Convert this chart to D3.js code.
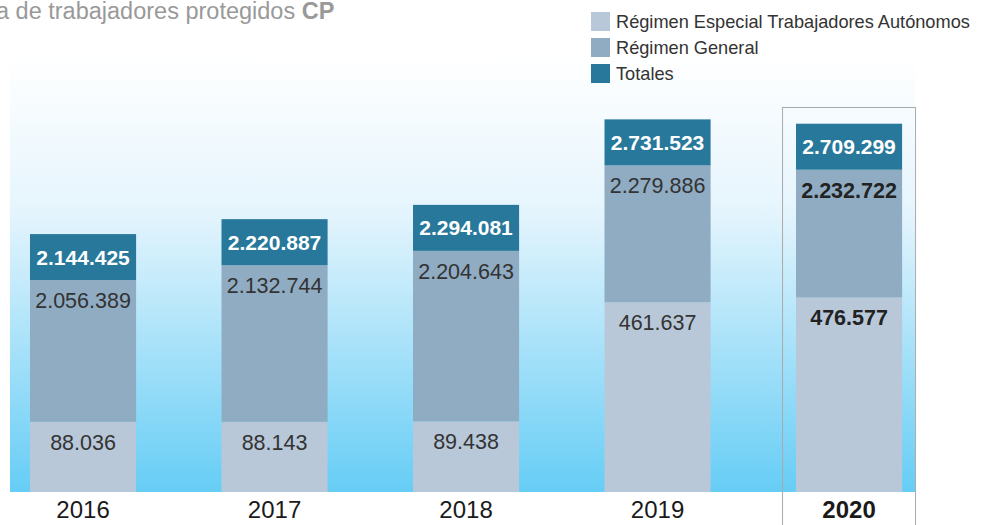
<!DOCTYPE html>
<html>
<head>
<meta charset="utf-8">
<script src="https://cdn.jsdelivr.net/npm/d3@7"></script>
<style>
  body { margin: 0; background: #fff; }
  svg { display: block; font-family: "Liberation Sans", Arial, sans-serif; }
</style>
</head>
<body>
<svg id="chart" width="982" height="525"></svg>
<script>
const years = ['2016', '2017', '2018', '2019', '2020']
const reta = [88036, 88143, 89438, 461637, 476577]
const general = [2056389, 2132744, 2204643, 2279886, 2232722]
const totales = [2144425, 2220887, 2294081, 2731523, 2709299]
const legendLabels = ['Régimen Especial Trabajadores Autónomos', 'Régimen General', 'Totales']
const colors = ['#b8c8d9', '#8facc3', '#27789b']

const width = 982
const height = 525
const baseline = 492
const capHeight = 46

const locale = d3.formatLocale({ decimal: ',', thousands: '.', grouping: [3], currency: ['', ''] })
const fmt = locale.format(',d')

const svg = d3.select('#chart')

// background gradient
const defs = svg.append('defs')
const grad = defs.append('linearGradient')
  .attr('id', 'bg')
  .attr('x1', 0).attr('y1', 0).attr('x2', 0).attr('y2', 1)
grad.append('stop').attr('offset', '0%').attr('stop-color', '#ffffff')
grad.append('stop').attr('offset', '35%').attr('stop-color', '#e6f5fd')
grad.append('stop').attr('offset', '100%').attr('stop-color', '#66cdf5')

svg.append('rect')
  .attr('x', 10).attr('y', 55)
  .attr('width', 905).attr('height', baseline - 55)
  .attr('fill', 'url(#bg)')

const x = d3.scaleBand()
  .domain(years)
  .range([-12.7, 944.8])
  .paddingInner(0.446)
  .paddingOuter(0.223)

// top of the Régimen General segment follows the total
const yTotal = d3.scaleLinear().domain([1060000, 2800000]).range([baseline, 152])
// top of the autónomos segment
const yReta = d3.scaleLinear().domain([0, 500000]).range([450, 290])

const rows = years.map((year, i) => ({
  year,
  reta: reta[i],
  general: general[i],
  total: totales[i],
  last: i === years.length - 1
}))

// highlight box for the last year
const lastYear = years[years.length - 1]
svg.append('rect')
  .attr('x', x(lastYear) + x.bandwidth() / 2 - 66.5)
  .attr('y', 107.5)
  .attr('width', 133)
  .attr('height', height)
  .attr('fill', 'none')
  .attr('stroke', '#aaaaaa')
  .attr('stroke-width', 1)

const bars = svg.append('g')
  .selectAll('g')
  .data(rows)
  .enter()
  .append('g')

bars.append('rect')
  .attr('x', (d) => x(d.year))
  .attr('y', (d) => yReta(d.reta))
  .attr('width', x.bandwidth())
  .attr('height', (d) => baseline - yReta(d.reta))
  .attr('fill', colors[0])

bars.append('rect')
  .attr('x', (d) => x(d.year))
  .attr('y', (d) => yTotal(d.total))
  .attr('width', x.bandwidth())
  .attr('height', (d) => yReta(d.reta) - yTotal(d.total))
  .attr('fill', colors[1])

bars.append('rect')
  .attr('x', (d) => x(d.year))
  .attr('y', (d) => yTotal(d.total) - capHeight)
  .attr('width', x.bandwidth())
  .attr('height', capHeight)
  .attr('fill', colors[2])

const cx = (d) => x(d.year) + x.bandwidth() / 2

bars.append('text')
  .attr('x', cx)
  .attr('y', (d) => yTotal(d.total) - capHeight / 2 + 7.5)
  .attr('text-anchor', 'middle')
  .attr('font-size', 21)
  .attr('font-weight', 'bold')
  .attr('fill', '#ffffff')
  .text((d) => fmt(d.total))

bars.append('text')
  .attr('x', cx)
  .attr('y', (d) => yTotal(d.total) + 28)
  .attr('text-anchor', 'middle')
  .attr('font-size', 21.5)
  .attr('font-weight', (d) => (d.last ? 'bold' : 'normal'))
  .attr('fill', (d) => (d.last ? '#222' : '#333'))
  .text((d) => fmt(d.general))

bars.append('text')
  .attr('x', cx)
  .attr('y', (d) => yReta(d.reta) + 28)
  .attr('text-anchor', 'middle')
  .attr('font-size', 21.5)
  .attr('font-weight', (d) => (d.last ? 'bold' : 'normal'))
  .attr('fill', (d) => (d.last ? '#222' : '#333'))
  .text((d) => fmt(d.reta))

// year axis
const axis = svg.append('g')
  .attr('transform', 'translate(0,' + baseline + ')')
  .call(d3.axisBottom(x).tickSize(0).tickPadding(9))
axis.select('.domain').remove()
axis.selectAll('text')
  .attr('font-size', 24)
  .attr('fill', '#1a1a1a')
  .attr('font-family', '"Liberation Sans", Arial, sans-serif')
  .attr('font-weight', (d) => (d === lastYear ? 'bold' : 'normal'))

// title (cut at the left edge as in the source)
const title = svg.append('text')
  .attr('x', -4)
  .attr('y', 19)
  .attr('font-size', 23.5)
  .attr('fill', '#999999')
title.append('tspan').text('a de trabajadores protegidos ')
title.append('tspan').attr('font-weight', 'bold').text('CP')

// legend
const legend = svg.append('g')
  .selectAll('g')
  .data(legendLabels)
  .enter()
  .append('g')
  .attr('transform', (d, i) => 'translate(591,' + (12 + i * 26) + ')')

legend.append('rect')
  .attr('width', 19)
  .attr('height', 19)
  .attr('fill', (d, i) => colors[i])

legend.append('text')
  .attr('x', 25)
  .attr('y', 16)
  .attr('font-size', 18.2)
  .attr('fill', '#333')
  .text((d) => d)
</script>
</body>
</html>
